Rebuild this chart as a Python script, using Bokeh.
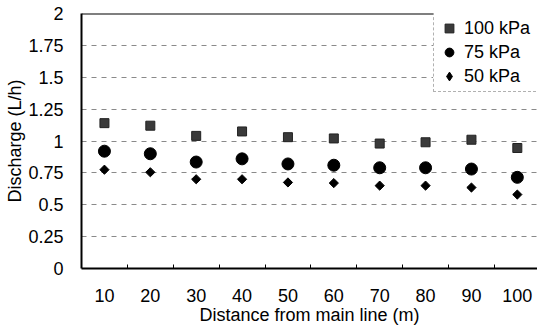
import math
from bokeh.plotting import figure
from bokeh.models import (Range1d, FixedTicker, Span, Legend, LegendItem)
from bokeh.embed import file_html
from bokeh.resources import INLINE

distance = [10, 20, 30, 40, 50, 60, 70, 80, 90, 100]
q100 = [1.14, 1.12, 1.04, 1.075, 1.03, 1.02, 0.98, 0.99, 1.01, 0.945]
q75 = [0.92, 0.90, 0.835, 0.86, 0.82, 0.81, 0.79, 0.79, 0.78, 0.715]
q50 = [0.775, 0.755, 0.70, 0.70, 0.675, 0.67, 0.65, 0.65, 0.635, 0.58]
y_ticks = [0, 0.25, 0.5, 0.75, 1, 1.25, 1.5, 1.75, 2]
y_tick_labels = {0: "0", 0.25: "0.25", 0.5: "0.5", 0.75: "0.75", 1: "1",
                 1.25: "1.25", 1.5: "1.5", 1.75: "1.75", 2: "2"}
series_names = ["100 kPa", "75 kPa", "50 kPa"]

FONT = "Liberation Sans"
FS = "18px"

p = figure(width=537, height=327, output_backend="svg", toolbar_location=None,
           x_range=Range1d(5, 104.4), y_range=Range1d(0, 2),
           min_border_left=81, min_border_right=0, min_border_top=13,
           min_border_bottom=59)
p.outline_line_color = None
p.background_fill_color = "white"
p.border_fill_color = "white"

# grid
p.xgrid.visible = False
p.ygrid.ticker = FixedTicker(ticks=[0.25, 0.5, 0.75, 1, 1.25, 1.5, 1.75])
p.ygrid.grid_line_color = "#8a8a8a"
p.ygrid.grid_line_dash = "5 5"
p.ygrid.grid_line_width = 1

# top frame line
p.add_layout(Span(location=2, dimension="width", line_color="black", line_width=2))

# x axis
xa = p.xaxis[0]
xa.ticker = FixedTicker(ticks=distance, minor_ticks=[d + 5 for d in distance])
xa.major_tick_in = 0
xa.major_tick_out = 0
xa.minor_tick_in = 4
xa.minor_tick_out = 0
xa.axis_line_width = 2
xa.axis_line_color = "black"
xa.major_label_text_font = FONT
xa.major_label_text_font_size = FS
xa.major_label_text_color = "black"
xa.major_label_standoff = 20
xa.axis_label = "Distance from main line (m)"
xa.axis_label_text_font = FONT
xa.axis_label_text_font_size = FS
xa.axis_label_text_font_style = "normal"
xa.axis_label_text_color = "black"
xa.axis_label_standoff = 0

# y axis
ya = p.yaxis[0]
ya.ticker = FixedTicker(ticks=y_ticks)
ya.major_label_overrides = y_tick_labels
ya.major_tick_in = 0
ya.major_tick_out = 0
ya.minor_tick_line_color = None
ya.axis_line_width = 2
ya.axis_line_color = "black"
ya.major_label_text_font = FONT
ya.major_label_text_font_size = FS
ya.major_label_text_color = "black"
ya.major_label_standoff = 18
ya.axis_label = "Discharge (L/h)"
ya.axis_label_text_font = FONT
ya.axis_label_text_font_size = FS
ya.axis_label_text_font_style = "normal"
ya.axis_label_text_color = "black"
ya.axis_label_standoff = 0

r100 = p.scatter(distance, q100, marker="square", size=9, fill_color="#3a3a3a",
                 line_color="#222222", line_width=1)
r75 = p.scatter(distance, q75, marker="circle", size=12, fill_color="black",
                line_color="black")
# legend swatch renderer for the diamond series (legend ignores marker angle);
# it is drawn underneath the rotated squares and fully hidden by them
r50_key = p.scatter(distance, q50, marker="diamond", size=6, fill_color="black",
                    line_color="black")
r50 = p.scatter(distance, q50, marker="square", angle=math.pi / 4, size=6.5,
                fill_color="black", line_color="black")

legend = Legend(items=[LegendItem(label=series_names[0], renderers=[r100]),
                       LegendItem(label=series_names[1], renderers=[r75]),
                       LegendItem(label=series_names[2], renderers=[r50_key])],
                location=(352, 176))
legend.label_text_font = FONT
legend.label_text_font_size = FS
legend.label_text_color = "black"
legend.border_line_color = "#666666"
legend.border_line_dash = "1 1"
legend.border_line_width = 1
legend.background_fill_alpha = 1
legend.padding = 4
legend.spacing = 2
legend.margin = 0
legend.glyph_width = 22
legend.glyph_height = 22
legend.label_standoff = 4
legend.label_width = 72
p.add_layout(legend, "center")

open("out.html", "w").write(file_html(p, INLINE))
